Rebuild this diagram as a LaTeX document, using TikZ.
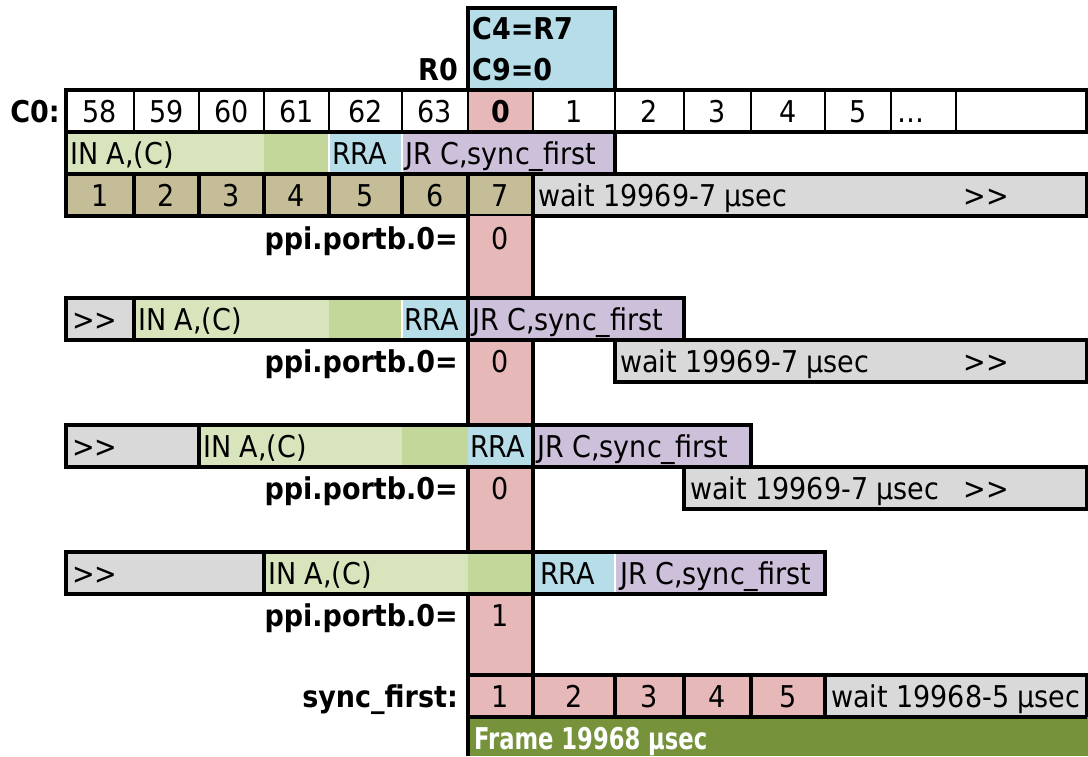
\documentclass[tikz,border=0pt]{standalone}
\usepackage{fontspec}
\setmainfont{DejaVu Sans Condensed}
\usepackage{tikz}
\definecolor{ingreen}{HTML}{D8E4BC}
\definecolor{indark}{HTML}{C4D79B}
\definecolor{rrablue}{HTML}{B7DEE8}
\definecolor{jrpurple}{HTML}{CCC0DA}
\definecolor{cycletan}{HTML}{C4BD97}
\definecolor{waitgrey}{HTML}{D9D9D9}
\definecolor{rowpink}{HTML}{E6B8B7}
\definecolor{frameolive}{HTML}{76933C}

\begin{document}
\begin{tikzpicture}[x=1pt, y=-1pt, font=\fontsize{30}{36}\selectfont,
    heavyline/.style={line width=3.5pt},
    fineline/.style={line width=1.6pt},
    lab/.style={anchor=base east, inner sep=0pt, font=\fontsize{30}{36}\selectfont\bfseries},
    num/.style={anchor=base, inner sep=0pt},
    txt/.style={anchor=base west, inner sep=0pt}]
    \useasboundingbox (0,0) rectangle (1088,756);
    % Draw the register box above column 0
    \fill[rrablue] (468,8) rectangle (615,90);
    \draw[heavyline] (468,90) -- (468,8) -- (615,8) -- (615,90);
    \node[txt, font=\fontsize{30}{36}\selectfont\bfseries] (cfour) at (472,39) {C4=R7};
    \node[txt, font=\fontsize{30}{36}\selectfont\bfseries] (cnine) at (472,80) {C9=0};
    \node[lab] (rzero) at (458,80) {R0};
    % Draw the C0 counter row
    \fill[rowpink] (468,90) rectangle (533,132);
    \draw[fineline] (134,90) -- (134,132);
    \draw[fineline] (199,90) -- (199,132);
    \draw[fineline] (264,90) -- (264,132);
    \draw[fineline] (329,90) -- (329,132);
    \draw[fineline] (402,90) -- (402,132);
    \draw[fineline] (468,90) -- (468,132);
    \draw[fineline] (533,90) -- (533,132);
    \draw[fineline] (615,90) -- (615,132);
    \draw[fineline] (684,90) -- (684,132);
    \draw[fineline] (751,90) -- (751,132);
    \draw[fineline] (825,90) -- (825,132);
    \draw[fineline] (891,90) -- (891,132);
    \draw[fineline] (956,90) -- (956,132);
    \draw[heavyline] (66,90) rectangle (1087,132);
    \node[lab] (czero) at (60,122) {C0:};
    \node[num] (k58) at (100,122) {58};
    \node[num] (k59) at (166.5,122) {59};
    \node[num] (k60) at (231.5,122) {60};
    \node[num] (k61) at (296.5,122) {61};
    \node[num] (k62) at (365.5,122) {62};
    \node[num] (k63) at (435,122) {63};
    \node[num, font=\fontsize{30}{36}\selectfont\bfseries] (k0) at (500.5,122) {0};
    \node[num] (k1) at (574,122) {1};
    \node[num] (k2) at (649.5,122) {2};
    \node[num] (k3) at (717.5,122) {3};
    \node[num] (k4) at (788,122) {4};
    \node[num] (k5) at (858,122) {5};
    \node[txt] (kdots) at (897,122) {…};
    % Draw the first pass of the loop
    \fill[ingreen] (66,132) rectangle (264,174);
    \fill[indark] (264,132) rectangle (329,174);
    \fill[rrablue] (329,132) rectangle (402,174);
    \fill[jrpurple] (402,132) rectangle (615,174);
    \draw[white, fineline] (329,134) -- (329,172);
    \draw[white, fineline] (402,134) -- (402,172);
    \draw[heavyline] (66,132) rectangle (615,174);
    \node[txt] (ina) at (70,164) {IN A,(C)};
    \node[txt] (rraa) at (332,164) {RRA};
    \node[txt] (jra) at (405,164) {JR C,sync\_first};
    % Draw the cycle counts
    \draw[heavyline, fill=cycletan] (66,174) rectangle (134,216);
    \draw[heavyline, fill=cycletan] (134,174) rectangle (199,216);
    \draw[heavyline, fill=cycletan] (199,174) rectangle (264,216);
    \draw[heavyline, fill=cycletan] (264,174) rectangle (329,216);
    \draw[heavyline, fill=cycletan] (329,174) rectangle (402,216);
    \draw[heavyline, fill=cycletan] (402,174) rectangle (468,216);
    \draw[heavyline, fill=cycletan] (468,174) rectangle (533,216);
    \draw[heavyline, fill=waitgrey] (533,174) rectangle (1087,216);
    \node[num] (cyc1) at (100,206) {1};
    \node[num] (cyc2) at (166.5,206) {2};
    \node[num] (cyc3) at (231.5,206) {3};
    \node[num] (cyc4) at (296.5,206) {4};
    \node[num] (cyc5) at (365.5,206) {5};
    \node[num] (cyc6) at (435,206) {6};
    \node[num] (cyc7) at (500.5,206) {7};
    \node[txt] (waita) at (538,206) {wait 19969-7 µsec};
    \node[num] (morea) at (986,206) {{>}{>}};
    % Draw the pink column under C0=0
    \fill[rowpink] (468,216) rectangle (533,675);
    \draw[heavyline] (468,216) -- (468,675);
    \draw[heavyline] (533,216) -- (533,675);
    \node[lab] (ppia) at (458,249) {ppi.portb.0=};
    \node[num] (bita) at (500.5,249) {0};
    % Draw the second pass
    \fill[waitgrey] (66,298) rectangle (134,340);
    \fill[ingreen] (134,298) rectangle (329,340);
    \fill[indark] (329,298) rectangle (402,340);
    \fill[rrablue] (402,298) rectangle (468,340);
    \fill[jrpurple] (468,298) rectangle (684,340);
    \draw[white, fineline] (402,300) -- (402,338);
    \draw[heavyline] (134,298) -- (134,340);
    \draw[heavyline] (468,298) -- (468,340);
    \draw[heavyline] (66,298) rectangle (684,340);
    \node[txt] (backb) at (72,330) {{>}{>}};
    \node[txt] (inb) at (138,330) {IN A,(C)};
    \node[txt] (rrab) at (404,330) {RRA};
    \node[txt] (jrb) at (472,330) {JR C,sync\_first};
    \draw[heavyline, fill=waitgrey] (615,340) rectangle (1087,382);
    \node[txt] (waitb) at (620,372) {wait 19969-7 µsec};
    \node[num] (moreb) at (986,372) {{>}{>}};
    \node[lab] (ppib) at (458,372) {ppi.portb.0=};
    \node[num] (bitb) at (500.5,372) {0};
    % Draw the third pass
    \fill[waitgrey] (66,425) rectangle (199,467);
    \fill[ingreen] (199,425) rectangle (402,467);
    \fill[indark] (402,425) rectangle (468,467);
    \fill[rrablue] (468,425) rectangle (533,467);
    \fill[jrpurple] (533,425) rectangle (751,467);
    \draw[heavyline] (199,425) -- (199,467);
    \draw[heavyline] (533,425) -- (533,467);
    \draw[heavyline] (66,425) rectangle (751,467);
    \node[txt] (backc) at (72,457) {{>}{>}};
    \node[txt] (inc) at (203,457) {IN A,(C)};
    \node[txt] (rrac) at (470,457) {RRA};
    \node[txt] (jrc) at (537,457) {JR C,sync\_first};
    \draw[heavyline, fill=waitgrey] (684,467) rectangle (1087,509);
    \node[txt] (waitc) at (690,499) {wait 19969-7 µsec};
    \node[num] (morec) at (986,499) {{>}{>}};
    \node[lab] (ppic) at (458,499) {ppi.portb.0=};
    \node[num] (bitc) at (500.5,499) {0};
    % Draw the last pass
    \fill[waitgrey] (66,552) rectangle (264,594);
    \fill[ingreen] (264,552) rectangle (468,594);
    \fill[indark] (468,552) rectangle (533,594);
    \fill[rrablue] (533,552) rectangle (615,594);
    \fill[jrpurple] (615,552) rectangle (825,594);
    \draw[white, fineline] (615,554) -- (615,592);
    \draw[heavyline] (264,552) -- (264,594);
    \draw[heavyline] (533,552) -- (533,594);
    \draw[heavyline] (66,552) rectangle (825,594);
    \node[txt] (backd) at (72,584) {{>}{>}};
    \node[txt] (ind) at (268,584) {IN A,(C)};
    \node[txt] (rrad) at (540,584) {RRA};
    \node[txt] (jrd) at (620,584) {JR C,sync\_first};
    \node[lab] (ppid) at (458,626) {ppi.portb.0=};
    \node[num] (bitd) at (500.5,626) {1};
    % Draw sync_first and the frame
    \node[lab] (sync) at (458,707) {sync\_first:};
    \draw[heavyline, fill=rowpink] (468,675) rectangle (533,717);
    \draw[heavyline, fill=rowpink] (533,675) rectangle (615,717);
    \draw[heavyline, fill=rowpink] (615,675) rectangle (684,717);
    \draw[heavyline, fill=rowpink] (684,675) rectangle (751,717);
    \draw[heavyline, fill=rowpink] (751,675) rectangle (825,717);
    \draw[heavyline, fill=waitgrey] (825,675) rectangle (1087,717);
    \node[num] (syn1) at (500.5,707) {1};
    \node[num] (syn2) at (574,707) {2};
    \node[num] (syn3) at (649.5,707) {3};
    \node[num] (syn4) at (717.5,707) {4};
    \node[num] (syn5) at (788,707) {5};
    \node[txt] (waite) at (831,707) {wait 19968-5 µsec};
    \fill[frameolive] (468,717) rectangle (1088,756);
    \draw[heavyline] (468,717) -- (468,756);
    \draw[heavyline] (468,717) -- (1087,717);
    \node[txt, text=white, font=\fontsize{30}{36}\selectfont\bfseries] (frame) at (474,749) {\scalebox{0.84}[1]{Frame 19968 µsec}};
\end{tikzpicture}
\end{document}
